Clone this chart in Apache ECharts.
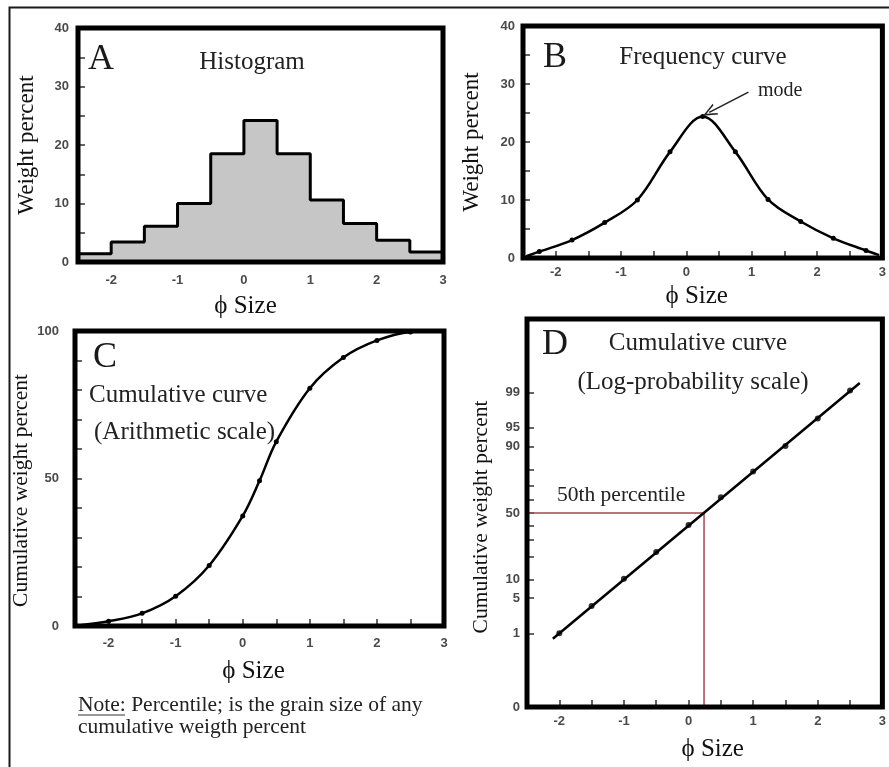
<!DOCTYPE html>
<html>
<head>
<meta charset="utf-8">
<script src="https://cdn.jsdelivr.net/npm/echarts@6/dist/echarts.min.js"></script>
<style>
  html, body { margin: 0; padding: 0; background: #fff; }
  #chart { width: 889px; height: 767px; }
</style>
</head>
<body>
<div id="chart"></div>
<script>
// ---- data ----
// phi size bin edges / class marks
const binLeft   = [-2.5, -2, -1.5, -1, -0.5, 0, 0.5, 1, 1.5, 2, 2.5];
const histPct   = [1.4, 3.4, 6.1, 10.0, 18.5, 24.2, 18.5, 10.6, 6.6, 3.7, 1.7];
const binMid    = [-2.25, -1.75, -1.25, -0.75, -0.25, 0.25, 0.75, 1.25, 1.75, 2.25, 2.75];
const freqPct   = [1.1, 3.1, 6.1, 10.0, 18.3, 24.4, 18.3, 10.1, 6.3, 3.4, 1.3];
const freqEnds  = [[-2.45, 0.3], [2.95, 0.5]];
const cumPhi    = [-2, -1.5, -1, -0.5, 0, 0.25, 0.5, 1, 1.5, 2, 2.5];
const cumPct    = [1.6, 4.3, 10.1, 20.5, 37.3, 49.2, 62.5, 80.6, 91.0, 96.8, 99.7];
const cumEnds   = [[-2.45, 0.2], [2.95, 100]];
const probPhi   = [-2, -1.5, -1, -0.5, 0, 0.5, 1, 1.5, 2, 2.5];
const probPct   = [1.0, 3.6, 10.2, 22.5, 40.9, 61.9, 78.9, 90.2, 96.6, 99.1];
const probLine  = [[-2.1, 0.75], [2.65, 99.4]];
const median    = { phi: 0.24, pct: 50 };
const modePoint = { phi: 0.25, pct: 24.4 };
const probTickPct  = [1, 5, 10, 20, 30, 40, 50, 60, 70, 80, 90, 95, 99];
const probLabelPct = [1, 5, 10, 50, 90, 95, 99];

// inverse standard normal CDF (Acklam)
function probit(p) {
  const a = [-3.969683028665376e+01, 2.209460984245205e+02, -2.759285104469687e+02, 1.383577518672690e+02, -3.066479806614716e+01, 2.506628277459239e+00];
  const b = [-5.447609879822406e+01, 1.615858368580409e+02, -1.556989798598866e+02, 6.680131188771972e+01, -1.328068155288572e+01];
  const c = [-7.784894002430293e-03, -3.223964580411365e-01, -2.400758277161838e+00, -2.549732539343734e+00, 4.374664141464968e+00, 2.938163982698783e+00];
  const d = [7.784695709041462e-03, 3.224671290700398e-01, 2.445134137142996e+00, 3.754408661907416e+00];
  const pl = 0.02425, ph = 1 - pl;
  let q, r;
  if (p < pl) {
    q = Math.sqrt(-2 * Math.log(p));
    return (((((c[0]*q+c[1])*q+c[2])*q+c[3])*q+c[4])*q+c[5]) / ((((d[0]*q+d[1])*q+d[2])*q+d[3])*q+1);
  }
  if (p > ph) {
    q = Math.sqrt(-2 * Math.log(1 - p));
    return -(((((c[0]*q+c[1])*q+c[2])*q+c[3])*q+c[4])*q+c[5]) / ((((d[0]*q+d[1])*q+d[2])*q+d[3])*q+1);
  }
  q = p - 0.5; r = q * q;
  return (((((a[0]*r+a[1])*r+a[2])*r+a[3])*r+a[4])*r+a[5])*q / (((((b[0]*r+b[1])*r+b[2])*r+b[3])*r+b[4])*r+1);
}
const zOf = pct => probit(pct / 100);
const Z_MIN = -3.75, Z_MAX = 3.75;

// ---- styles ----
const SERIF = '"Liberation Serif", "Times New Roman", serif';
const SANS = '"Liberation Sans", Arial, sans-serif';
const tickLabel = { fontFamily: SANS, fontWeight: 'bold', fontSize: 13, color: '#4a4a4a' };
const nameStyle = { fontFamily: SERIF, fontSize: 23, color: '#111' };
const tickStyle = { lineStyle: { color: '#333', width: 1.5 } };
const gridBase = { show: true, borderColor: '#000', borderWidth: 5, z: 5, containLabel: false };

function phiAxis(gridIndex, margin, gap, pad, ticks) {
  return {
    type: 'value', gridIndex, min: -2.5, max: 3, interval: 0.5,
    splitLine: { show: false },
    axisLine: { show: false, onZero: false },
    axisTick: Object.assign({ show: ticks, inside: true, length: 7 }, tickStyle),
    axisLabel: Object.assign({ margin, formatter: v => Number.isInteger(v) ? String(v) : '' }, tickLabel),
    name: 'ϕ Size', nameLocation: 'middle', nameGap: gap,
    nameTextStyle: Object.assign({}, nameStyle, { fontSize: 25, padding: pad })
  };
}

const histData = binLeft.map((x, i) => [x, histPct[i]]).concat([[3, histPct[histPct.length - 1]]]);
const freqData = [freqEnds[0]].concat(binMid.map((x, i) => [x, freqPct[i]]), [freqEnds[1]]);
const cumData  = [cumEnds[0]].concat(cumPhi.map((x, i) => [x, cumPct[i]]), [cumEnds[1]]);

const chart = echarts.init(document.getElementById('chart'), null, { renderer: 'canvas' });

const option = {
  animation: false,
  backgroundColor: '#fff',
  grid: [
    Object.assign({ left: 78, top: 28, width: 365, height: 234 }, gridBase),
    Object.assign({ left: 523, top: 26, width: 367, height: 232 }, gridBase),
    Object.assign({ left: 75, top: 331, width: 369, height: 295 }, gridBase),
    Object.assign({ left: 527, top: 319, width: 363, height: 388 }, gridBase)
  ],
  xAxis: [
    phiAxis(0, 12, 32, [0, 30, 0, 0], false),
    phiAxis(1, 8, 26, [0, 12, 0, 0], true),
    phiAxis(2, 11, 33, [0, 12, 0, 0], true),
    phiAxis(3, 8, 30, [0, 0, 0, 16], true)
  ],
  yAxis: [
    {
      type: 'value', gridIndex: 0, min: 0, max: 40, interval: 10,
      splitLine: { show: false }, axisLine: { show: false, onZero: false },
      axisTick: Object.assign({ inside: true, length: 7 }, tickStyle),
      minorTick: Object.assign({ show: true, splitNumber: 2, length: 7 }, tickStyle),
      axisLabel: Object.assign({ margin: 9 }, tickLabel),
      name: 'Weight percent', nameLocation: 'middle', nameGap: 40, nameRotate: 90,
      nameTextStyle: nameStyle
    },
    {
      type: 'value', gridIndex: 1, min: 0, max: 40, interval: 10,
      splitLine: { show: false }, axisLine: { show: false, onZero: false },
      axisTick: Object.assign({ inside: true, length: 7 }, tickStyle),
      minorTick: Object.assign({ show: true, splitNumber: 2, length: 7 }, tickStyle),
      axisLabel: Object.assign({ margin: 8 }, tickLabel),
      name: 'Weight percent', nameLocation: 'middle', nameGap: 40, nameRotate: 90,
      nameTextStyle: nameStyle
    },
    {
      type: 'value', gridIndex: 2, min: 0, max: 100, interval: 50,
      splitLine: { show: false }, axisLine: { show: false, onZero: false },
      axisTick: Object.assign({ inside: true, length: 7 }, tickStyle),
      minorTick: Object.assign({ show: true, splitNumber: 5, length: 7 }, tickStyle),
      axisLabel: Object.assign({ margin: 16 }, tickLabel),
      name: 'Cumulative weight percent', nameLocation: 'middle', nameGap: 43, nameRotate: 90,
      nameTextStyle: Object.assign({}, nameStyle, { fontSize: 21.5, padding: [0, 24, 0, 0] })
    },
    {
      type: 'value', gridIndex: 3, min: Z_MIN, max: Z_MAX,
      splitLine: { show: false }, axisLine: { show: false, onZero: false },
      axisTick: Object.assign({ inside: true, length: 7, customValues: probTickPct.map(zOf) }, tickStyle),
      axisLabel: Object.assign({
        margin: 7,
        customValues: [Z_MIN].concat(probLabelPct.map(zOf)),
        formatter: v => {
          if (v <= Z_MIN + 1e-6) return '0';
          let best = probLabelPct[0];
          probLabelPct.forEach(p => { if (Math.abs(zOf(p) - v) < Math.abs(zOf(best) - v)) best = p; });
          return String(best);
        }
      }, tickLabel),
      name: 'Cumulative weight percent', nameLocation: 'middle', nameGap: 35, nameRotate: 90,
      nameTextStyle: Object.assign({}, nameStyle, { fontSize: 21.5, padding: [0, 8, 0, 0] })
    }
  ],
  series: [
    {
      name: 'Histogram', type: 'line', xAxisIndex: 0, yAxisIndex: 0,
      step: 'end', data: histData, showSymbol: false,
      lineStyle: { color: '#000', width: 3 },
      areaStyle: { color: '#c6c6c6', opacity: 1 }
    },
    {
      name: 'Frequency curve', type: 'line', xAxisIndex: 1, yAxisIndex: 1,
      smooth: 0.35,
      data: freqData.map((p, i) => (i === 0 || i === freqData.length - 1) ? { value: p, symbol: 'none' } : p),
      symbol: 'circle', symbolSize: 5, itemStyle: { color: '#000' },
      lineStyle: { color: '#000', width: 2.5 },
      markLine: {
        silent: true, symbol: ['none', 'path://M0,10 L5,0 L10,10 L8.6,10 L5,2.8 L1.4,10 Z'],
        symbolSize: [12, 14],
        lineStyle: { color: '#222', width: 1.5, type: 'solid' },
        label: { show: false },
        data: [[{ coord: [0.95, 28.6] }, { coord: [modePoint.phi + 0.1, modePoint.pct + 0.7] }]]
      }
    },
    {
      name: 'Cumulative (arithmetic)', type: 'line', xAxisIndex: 2, yAxisIndex: 2,
      smooth: 0.35,
      data: cumData.map((p, i) => (i === 0 || i === cumData.length - 1) ? { value: p, symbol: 'none' } : p),
      symbol: 'circle', symbolSize: 5, itemStyle: { color: '#000' },
      lineStyle: { color: '#000', width: 2.5 }
    },
    {
      name: '50th percentile', type: 'line', xAxisIndex: 3, yAxisIndex: 3,
      data: [[-2.5, zOf(median.pct)], [median.phi, zOf(median.pct)], [median.phi, Z_MIN]],
      showSymbol: false, lineStyle: { color: '#a8454f', width: 1.5 }
    },
    {
      name: 'Cumulative (probability)', type: 'line', xAxisIndex: 3, yAxisIndex: 3,
      data: probLine.map(p => [p[0], zOf(p[1])]), showSymbol: false,
      lineStyle: { color: '#000', width: 2.5 }
    },
    {
      name: 'Cumulative points', type: 'scatter', xAxisIndex: 3, yAxisIndex: 3,
      data: probPhi.map((x, i) => [x, zOf(probPct[i])]),
      symbolSize: 6, itemStyle: { color: '#000' }
    }
  ],
  graphic: [
    { type: 'polyline', shape: { points: [[9.5, 767], [9.5, 7.5], [889, 7.5]] }, style: { stroke: '#1a1a1a', lineWidth: 2, fill: null } },
    // panel A
    { type: 'text', x: 88, y: 60, style: { text: 'A', font: '36px ' + SERIF, fill: '#1a1a1a', verticalAlign: 'middle' } },
    { type: 'text', x: 252, y: 62, style: { text: 'Histogram', font: '25px ' + SERIF, fill: '#222', align: 'center', verticalAlign: 'middle' } },
    // panel B
    { type: 'text', x: 543, y: 58, style: { text: 'B', font: '36px ' + SERIF, fill: '#1a1a1a', verticalAlign: 'middle' } },
    { type: 'text', x: 703, y: 57, style: { text: 'Frequency curve', font: '25px ' + SERIF, fill: '#222', align: 'center', verticalAlign: 'middle' } },
    { type: 'text', x: 758, y: 91, style: { text: 'mode', font: '20px ' + SERIF, fill: '#222', verticalAlign: 'middle' } },
    // panel C
    { type: 'text', x: 93, y: 358, style: { text: 'C', font: '36px ' + SERIF, fill: '#1a1a1a', verticalAlign: 'middle' } },
    { type: 'text', x: 89, y: 395, style: { text: 'Cumulative curve', font: '25px ' + SERIF, fill: '#222', verticalAlign: 'middle' } },
    { type: 'text', x: 94, y: 432, style: { text: '(Arithmetic scale)', font: '25px ' + SERIF, fill: '#222', verticalAlign: 'middle' } },
    { type: 'text', x: 78, y: 705, style: { text: 'Note: Percentile; is the grain size of any', font: '21.5px ' + SERIF, fill: '#222', verticalAlign: 'middle' } },
    { type: 'text', x: 78, y: 727, style: { text: 'cumulative weigth percent', font: '21.5px ' + SERIF, fill: '#222', verticalAlign: 'middle' } },
    { type: 'line', shape: { x1: 78, y1: 715, x2: 125, y2: 715 }, style: { stroke: '#333', lineWidth: 1 } },
    // panel D
    { type: 'text', x: 542, y: 345, style: { text: 'D', font: '36px ' + SERIF, fill: '#1a1a1a', verticalAlign: 'middle' } },
    { type: 'text', x: 698, y: 343, style: { text: 'Cumulative curve', font: '25px ' + SERIF, fill: '#222', align: 'center', verticalAlign: 'middle' } },
    { type: 'text', x: 693, y: 382, style: { text: '(Log-probability scale)', font: '25px ' + SERIF, fill: '#222', align: 'center', verticalAlign: 'middle' } },
    { type: 'text', x: 557, y: 495, style: { text: '50th percentile', font: '21.5px ' + SERIF, fill: '#222', verticalAlign: 'middle' } }
  ]
};

chart.setOption(option);
</script>
</body>
</html>
